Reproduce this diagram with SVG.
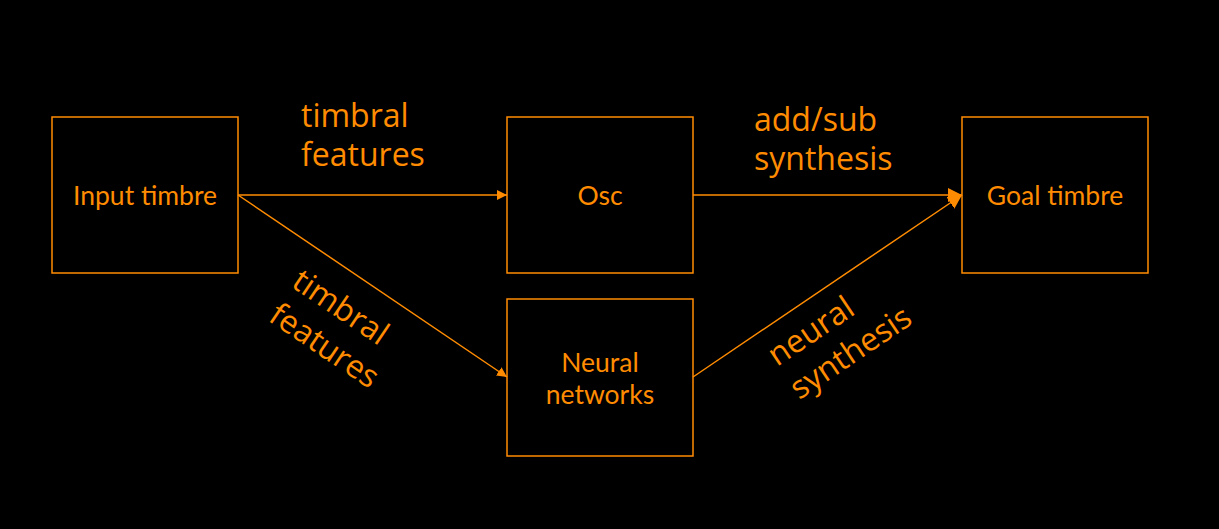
<svg xmlns="http://www.w3.org/2000/svg" width="1219" height="529" viewBox="0 0 1219 529">
<defs>
<style>
.box{fill:none;stroke:#FF8C00;stroke-width:1.5}
.nt{font-family:Lato,"Open Sans",sans-serif;font-size:26.5px;fill:#FF8C00;text-anchor:middle}
.lb{font-family:"Open Sans","Noto Sans",sans-serif;font-size:32px;fill:#FF8C00}
.cn{stroke:#FF8C00;stroke-width:1.5;fill:none;marker-end:url(#ah)}
</style>
<marker id="ah" viewBox="0 0 10 10" refX="10" refY="5" markerWidth="10" markerHeight="10" markerUnits="userSpaceOnUse" orient="auto">
<path d="M0,0 L10,5 L0,10 Z" fill="#FF8C00"/>
</marker>
<marker id="ah2" viewBox="0 0 10 10" refX="10" refY="5" markerWidth="14" markerHeight="14" markerUnits="userSpaceOnUse" orient="auto">
<path d="M0,0 L10,5 L0,10 Z" fill="#FF8C00"/>
</marker>
</defs>
<rect width="1219" height="529" fill="#000"/>
<g id="connectors">
<line class="cn" x1="238" y1="195" x2="507" y2="195"/>
<line class="cn" x1="238" y1="195" x2="507" y2="377"/>
<line class="cn" x1="693" y1="195" x2="962" y2="195" style="marker-end:url(#ah2)"/>
<line class="cn" x1="693" y1="377" x2="962" y2="195" style="marker-end:url(#ah2)"/>
<text class="lb" x="301" y="127">timbral</text>
<text class="lb" x="301" y="166">features</text>
<text class="lb" x="754" y="131">add/sub</text>
<text class="lb" x="754" y="170">synthesis</text>
<g transform="translate(290,286) rotate(34)">
<text class="lb" x="0" y="0">timbral</text>
<text class="lb" x="0" y="41">features</text>
</g>
<g transform="translate(777,367) rotate(-34)">
<text class="lb" x="0" y="0">neural</text>
<text class="lb" x="0" y="40">synthesis</text>
</g>
</g>
<g id="input">
<rect class="box" x="52" y="117" width="186" height="156"/>
<text class="nt" x="145" y="205">Input timbre</text>
</g>
<g id="osc">
<rect class="box" x="507" y="117" width="186" height="156"/>
<text class="nt" x="600" y="205">Osc</text>
</g>
<g id="neural">
<rect class="box" x="507" y="299" width="186" height="157"/>
<text class="nt" x="600" y="372">Neural</text>
<text class="nt" x="600" y="404">networks</text>
</g>
<g id="goal">
<rect class="box" x="962" y="117" width="186" height="156"/>
<text class="nt" x="1055" y="205">Goal timbre</text>
</g>
</svg>
